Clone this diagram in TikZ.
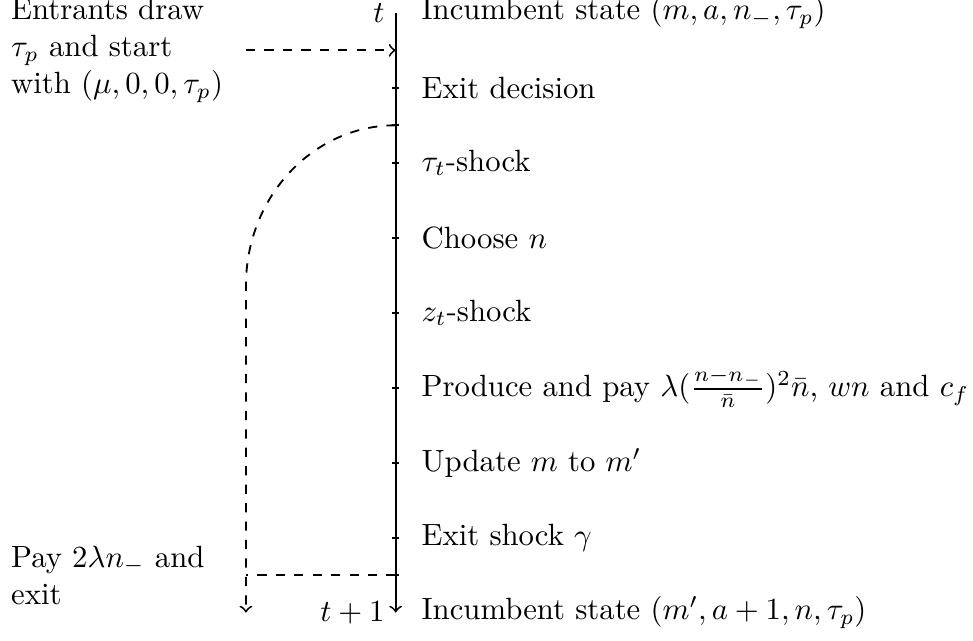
\documentclass[tikz,border=0pt]{standalone}
\usetikzlibrary{positioning}
\tikzset{ev/.style={anchor=west,xshift=4.8pt}, side/.style={anchor=west,align=left}, flow/.style={dashed,->}}
\begin{document}
\begin{tikzpicture}[x=1cm,y=0.857cm,semithick]
\useasboundingbox (-4.524,0.1715) rectangle (6.60,-8.37);
\coordinate (top) at (0,0);
\coordinate (e05) at (0,-0.5);
\coordinate (e1) at (0,-1);
\coordinate (e15) at (0,-1.5);
\coordinate (e2) at (0,-2);
\coordinate (e3) at (0,-3);
\coordinate (e4) at (0,-4);
\coordinate (e5) at (0,-5);
\coordinate (e6) at (0,-6);
\coordinate (e7) at (0,-7);
\coordinate (e75) at (0,-7.5);
\coordinate (bot) at (0,-8);
\coordinate (ent) at (-1.712,-0.5);
\coordinate (exitend) at (-1.712,-8);
\draw[->] (top) -- (bot);
\draw ([xshift=-1.2pt]e1) -- ([xshift=1.2pt]e1);
\draw ([xshift=-1.2pt]e15) -- ([xshift=1.2pt]e15);
\draw ([xshift=-1.2pt]e2) -- ([xshift=1.2pt]e2);
\draw ([xshift=-1.2pt]e3) -- ([xshift=1.2pt]e3);
\draw ([xshift=-1.2pt]e4) -- ([xshift=1.2pt]e4);
\draw ([xshift=-1.2pt]e5) -- ([xshift=1.2pt]e5);
\draw ([xshift=-1.2pt]e6) -- ([xshift=1.2pt]e6);
\draw ([xshift=-1.2pt]e7) -- ([xshift=1.2pt]e7);
\draw ([xshift=-1.2pt]e75) -- ([xshift=1.2pt]e75);
\node[anchor=east] (tl) at (top) {$t$};
\node[anchor=east] (tl1) at (bot) {$t+1$};
\node[ev] (s0) at (top) {Incumbent state $(m,a,n_-,\tau_p)$};
\node[ev] (s1) at (e1) {Exit decision};
\node[ev] (s2) at (e2) {$\tau_t$-shock};
\node[ev] (s3) at (e3) {Choose $n$};
\node[ev] (s4) at (e4) {$z_t$-shock};
\node[ev] (s5) at (e5) {Produce and pay $\lambda(\frac{n-n_-}{\bar{n}})^2\bar{n}$, $wn$ and $c_f$};
\node[ev] (s6) at (e6) {Update $m$ to $m'$};
\node[ev] (s7) at (e7) {Exit shock $\gamma$};
\node[ev] (s8) at (bot) {Incumbent state $(m',a+1,n,\tau_p)$};
\node[side] (entr) at (-4.524,-0.5) {Entrants draw\\$\tau_p$ and start\\with $(\mu,0,0,\tau_p)$};
\node[side] (pay) at (-4.524,-7.5) {Pay $2\lambda n_-$ and\\exit};
\draw[flow] (ent) -- (e05);
\draw[flow] (e15) arc[start angle=90,end angle=180,x radius=1.712cm,y radius=1.83cm] -- (exitend);
\draw[dashed] (e75) -- (e75 -| exitend);
\end{tikzpicture}
\end{document}
